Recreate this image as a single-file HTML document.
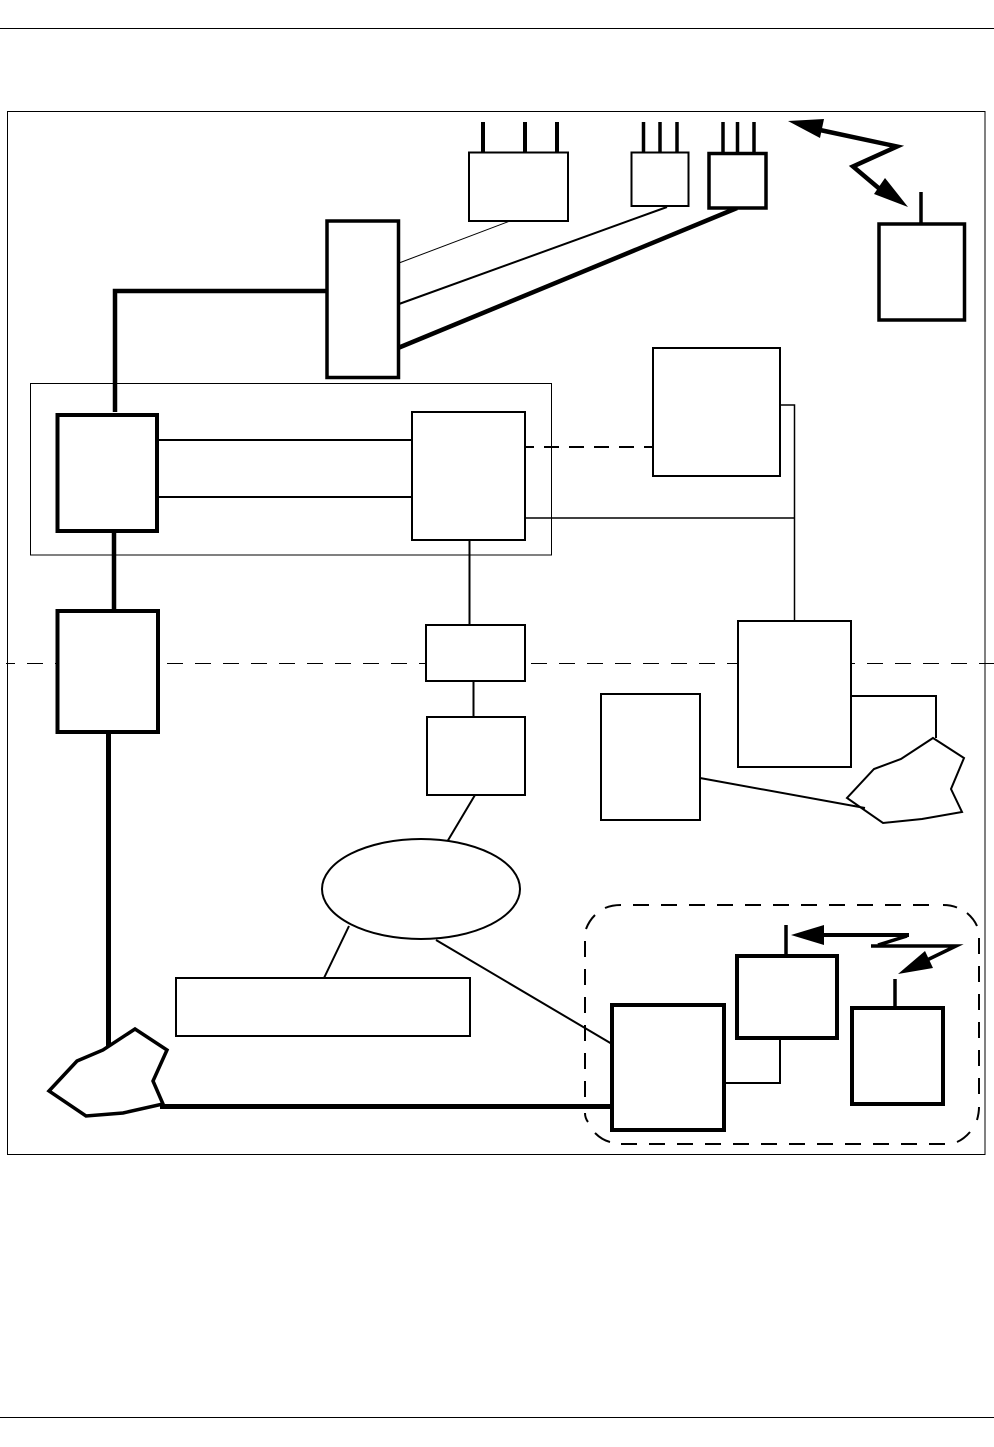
<!DOCTYPE html>
<html><head><meta charset="utf-8"><style>html,body{margin:0;padding:0;background:#fff}svg{display:block}</style></head>
<body>
<svg width="994" height="1447" viewBox="0 0 994 1447" xmlns="http://www.w3.org/2000/svg" fill="none" stroke="#000" stroke-miterlimit="10">
<line x1="0" y1="28.5" x2="994" y2="28.5" stroke-width="1"/>
<line x1="0" y1="1417.5" x2="994" y2="1417.5" stroke-width="1"/>
<rect x="7.5" y="111.5" width="977.5" height="1043" stroke-width="1"/>
<line x1="6" y1="663.5" x2="994" y2="663.5" stroke-width="1" stroke-dasharray="16,12" stroke-dashoffset="7"/>
<rect x="30.5" y="383.5" width="521" height="171.5" stroke-width="1"/>

<!-- dashed rounded region -->
<g stroke-width="2">
<path d="M621 905H941" stroke-dasharray="16,12" stroke-dashoffset="16"/>
<path d="M621 1144H945" stroke-dasharray="16,12"/>
<path d="M585 941V1105" stroke-dasharray="16,12"/>
<path d="M979 938V1100" stroke-dasharray="16,12"/>
<path d="M586 929Q589 921 595 915M605 908Q612 905 621 905"/>
<path d="M943 905Q951 905 957 907.500M967 913Q974 919 977 926"/>
<path d="M585 1113Q585 1118 588 1122M595 1133Q602 1140 610 1142"/>
<path d="M957 1142Q964 1139 970 1132M977 1120Q979 1113 979 1107"/>
</g>

<!-- top stems -->
<g stroke-width="4"><path d="M483 122V152M525 122V152M557 122V152"/></g>
<g stroke-width="3.5"><path d="M643.500 122V152M660 122V152M677 122V152M723 122V153M737.500 122V153M754 122V153"/></g>
<path d="M921 192V224" stroke-width="3.500"/>

<!-- connectors -->
<path d="M399 263L510 221" stroke-width="1"/>
<path d="M399 304L667 207" stroke-width="2"/>
<path d="M398 348L737 208" stroke-width="4.500"/>
<path d="M115 412V291H326" stroke-width="4.500"/>
<path d="M157 440H412M157 497H412" stroke-width="2"/>
<path d="M525 447H653" stroke-width="2" stroke-dasharray="15,10" stroke-dashoffset="6"/>
<path d="M780 405H794.500V622M525 518H794.500" stroke-width="1.500"/>
<path d="M469.500 540V625M473.500 681V717" stroke-width="2"/>
<path d="M475 795L447 842M349 926L324 978M436 940L612 1044" stroke-width="2"/>
<path d="M114 531V611" stroke-width="4.500"/>
<path d="M108.500 732V1048" stroke-width="5"/>
<path d="M160 1106.500H612" stroke-width="5"/>
<path d="M851 696H936V738" stroke-width="2"/>
<path d="M724 1083H780V1038" stroke-width="2"/>

<!-- boxes -->
<g fill="#fff">
<rect x="469" y="152.500" width="99" height="68.500" stroke-width="2"/>
<rect x="631.500" y="152.500" width="57" height="53.500" stroke-width="2"/>
<rect x="709" y="153.500" width="57" height="54.500" stroke-width="3.500"/>
<rect x="879" y="224" width="85.500" height="96" stroke-width="3.500"/>
<rect x="327" y="221" width="71.500" height="156.500" stroke-width="3.500"/>
<rect x="653" y="348" width="127" height="128" stroke-width="2"/>
<rect x="57.500" y="415" width="99.500" height="116" stroke-width="4"/>
<rect x="412" y="412" width="113" height="128" stroke-width="2"/>
<rect x="57.500" y="611" width="100.500" height="121" stroke-width="4"/>
<rect x="426" y="625" width="99" height="56" stroke-width="2"/>
<rect x="738" y="621" width="113" height="146" stroke-width="2"/>
<rect x="601" y="694" width="99" height="126" stroke-width="2"/>
<rect x="427" y="717" width="98" height="78" stroke-width="2"/>
<ellipse cx="421" cy="889" rx="99" ry="50" stroke-width="2"/>
<rect x="176" y="978" width="294" height="58" stroke-width="2"/>
<rect x="612" y="1005" width="112" height="125" stroke-width="4"/>
<rect x="737" y="956" width="100" height="82" stroke-width="4"/>
<rect x="852" y="1008" width="91" height="96" stroke-width="4"/>
<polygon points="933,738 964,758 951,789 962,812 922,819 883,823 847,798 874,769 901,759" stroke-width="2"/>
<polygon points="49,1091 77,1061 103,1050 135,1029 167,1050 153,1081 163,1104 123,1113 86,1116" stroke-width="3.500"/>
</g>
<path d="M700 778L865 808" stroke-width="2"/>

<!-- bottom stems -->
<path d="M786 925V956M895 979V1008" stroke-width="3.500"/>

<!-- lightning top -->
<path d="M820 130L897 146.500L853 166.500L888 196" stroke-width="4.500"/>
<polygon points="788,121 824,119 820,138" fill="#000" stroke="none"/>
<polygon points="908,207 885,178 874,194" fill="#000" stroke="none"/>

<!-- lightning bottom -->
<path d="M824 935H909" stroke-width="4"/>
<path d="M907 936L878 945" stroke-width="3.500"/>
<path d="M871 946H956L925 961" stroke-width="3.500"/>
<polygon points="791,935 824,925 824,945" fill="#000" stroke="none"/>
<polygon points="898,974 925,951 933,968" fill="#000" stroke="none"/>
</svg>
</body></html>
